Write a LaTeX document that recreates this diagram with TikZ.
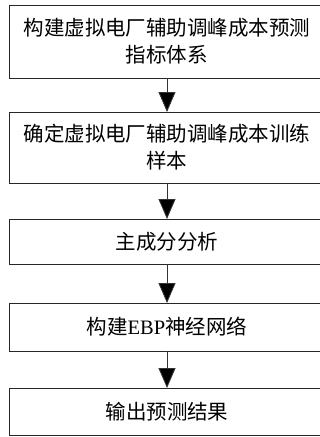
\documentclass[tikz,border=0pt]{standalone}
\usepackage{fontspec}
\setmainfont{Liberation Serif}
\newfontfamily\cjk{Noto Sans CJK SC}
\usetikzlibrary{arrows.meta}
\tikzset{
  box/.style={draw=black!85, line width=1pt, minimum width=315pt, inner sep=0pt, outer sep=0pt, align=center,
    font=\fontsize{20.5pt}{27pt}\selectfont},
  arr/.style={draw=black!80, line width=0.9pt, -{Triangle[length=20pt,width=17pt,fill=black]}}
}
\begin{document}
\begin{tikzpicture}[x=1pt,y=-1pt]
\useasboundingbox (0,0) rectangle (320,437);
\clip (0,0) rectangle (320,437);
\fill[white] (0,0) rectangle (320,437);
\node[box, minimum height=73pt] (b1) at (167,41.5) {\cjk 构建虚拟电厂辅助调峰成本预测\\\cjk 指标体系};
\node[box, minimum height=71pt] (b2) at (167,147.5) {\cjk 确定虚拟电厂辅助调峰成本训练\\\cjk 样本};
\node[box, minimum height=45pt] (b3) at (167,241.5) {\cjk 主成分分析};
\node[box, minimum height=48pt] (b4) at (167,327) {{\cjk 构建}EBP{\cjk 神经网络}};
\node[box, minimum height=47pt] (b5) at (167,411.5) {\cjk 输出预测结果};
\draw[arr] (b1.south) -- (b2.north);
\draw[arr] (b2.south) -- (b3.north);
\draw[arr] (b3.south) -- (b4.north);
\draw[arr] (b4.south) -- (b5.north);
\end{tikzpicture}
\end{document}
